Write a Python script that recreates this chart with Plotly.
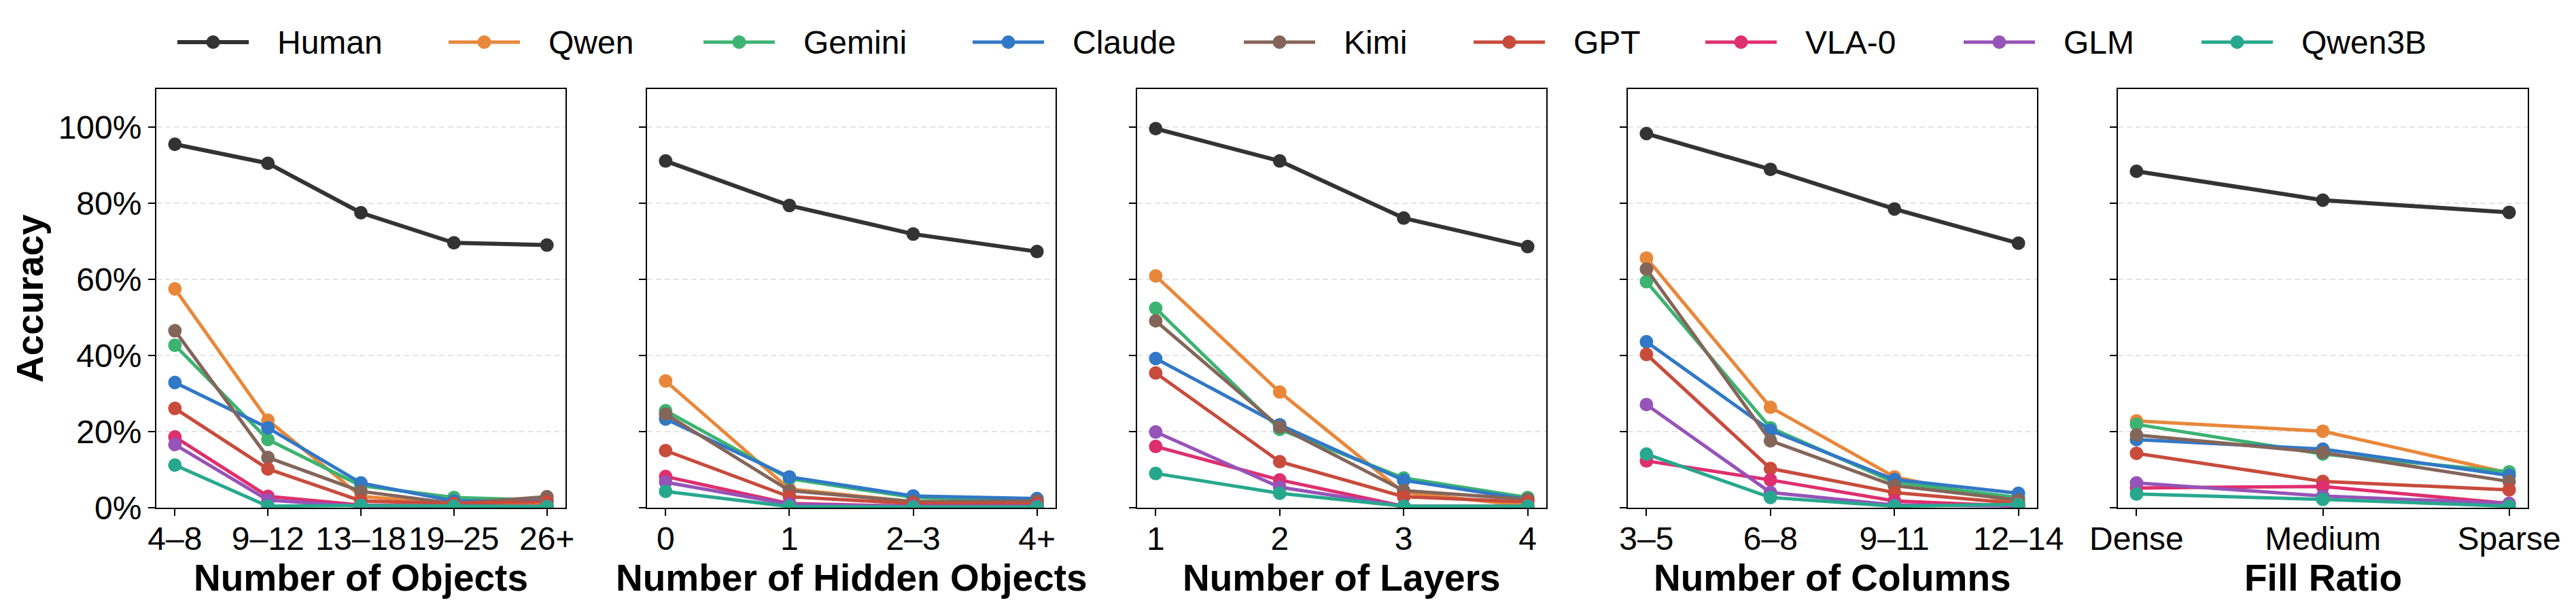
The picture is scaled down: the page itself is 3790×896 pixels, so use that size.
import plotly.graph_objects as go

models = ["Human", "Qwen", "Gemini", "Claude", "Kimi", "GPT", "VLA-0", "GLM", "Qwen3B"]
colors = ["#333333", "#E8873A", "#3CB371", "#3178C6", "#84655A", "#C84B3C", "#DE2F6E", "#9653B8", "#27A88E"]

y_ticks = [0, 20, 40, 60, 80, 100]
y_tick_labels = ["0%", "20%", "40%", "60%", "80%", "100%"]

objects_cats = ["4–8", "9–12", "13–18", "19–25", "26+"]
objects_vals = {
    "Human":  [95.5, 90.5, 77.5, 69.6, 69.0],
    "Qwen":   [57.5, 23.0, 3.0, 1.0, 1.0],
    "Gemini": [42.7, 17.9, 5.8, 2.7, 2.0],
    "Claude": [32.9, 21.0, 6.5, 1.8, 1.8],
    "Kimi":   [46.5, 13.2, 4.3, 1.1, 2.9],
    "GPT":    [26.1, 10.2, 1.8, 1.1, 1.6],
    "VLA-0":  [18.6, 3.0, 0.7, 0.4, 0.4],
    "GLM":    [16.6, 2.0, 0.4, 0.3, 0.3],
    "Qwen3B": [11.2, 0.4, 0.6, 0.4, 0.3],
}

hidden_cats = ["0", "1", "2–3", "4+"]
hidden_vals = {
    "Human":  [91.1, 79.4, 71.9, 67.3],
    "Qwen":   [33.3, 4.9, 1.6, 1.3],
    "Gemini": [25.5, 7.6, 2.7, 1.8],
    "Claude": [23.3, 8.1, 3.1, 2.4],
    "Kimi":   [24.6, 4.5, 1.6, 1.8],
    "GPT":    [15.0, 2.9, 1.1, 1.1],
    "VLA-0":  [8.2, 1.1, 0.4, 0.4],
    "GLM":    [6.7, 0.9, 0.4, 0.4],
    "Qwen3B": [4.3, 0.3, 0.2, 0.2],
}

layers_cats = ["1", "2", "3", "4"]
layers_vals = {
    "Human":  [99.6, 91.1, 76.1, 68.6],
    "Qwen":   [60.9, 30.4, 4.0, 0.5],
    "Gemini": [52.4, 20.6, 7.8, 2.7],
    "Claude": [39.2, 21.8, 7.2, 2.2],
    "Kimi":   [49.1, 21.2, 4.5, 2.2],
    "GPT":    [35.4, 12.1, 2.9, 1.5],
    "VLA-0":  [16.1, 7.3, 0.4, 0.4],
    "GLM":    [19.9, 5.4, 0.4, 0.3],
    "Qwen3B": [9.0, 3.8, 0.4, 0.4],
}

columns_cats = ["3–5", "6–8", "9–11", "12–14"]
columns_vals = {
    "Human":  [98.3, 88.9, 78.5, 69.5],
    "Qwen":   [65.6, 26.4, 8.1, 1.3],
    "Gemini": [59.4, 21.0, 6.7, 2.7],
    "Claude": [43.6, 20.3, 7.4, 3.8],
    "Kimi":   [62.7, 17.6, 5.8, 2.0],
    "GPT":    [40.3, 10.3, 4.0, 1.1],
    "VLA-0":  [12.3, 7.3, 1.8, 0.4],
    "GLM":    [27.1, 4.0, 0.7, 0.5],
    "Qwen3B": [14.1, 2.7, 0.4, 0.9],
}

fill_cats = ["Dense", "Medium", "Sparse"]
fill_vals = {
    "Human":  [88.4, 80.8, 77.6],
    "Qwen":   [22.8, 20.1, 9.1],
    "Gemini": [21.9, 14.1, 9.4],
    "Claude": [17.9, 15.4, 8.5],
    "Kimi":   [19.1, 14.5, 6.9],
    "GPT":    [14.3, 6.9, 4.7],
    "VLA-0":  [5.2, 5.6, 1.1],
    "GLM":    [6.5, 3.1, 1.1],
    "Qwen3B": [3.6, 2.2, 0.4],
}

panels = [
    ("Number of Objects", objects_cats, objects_vals),
    ("Number of Hidden Objects", hidden_cats, hidden_vals),
    ("Number of Layers", layers_cats, layers_vals),
    ("Number of Columns", columns_cats, columns_vals),
    ("Fill Ratio", fill_cats, fill_vals),
]

# ---- layout constants (pixels) ----
W, H = 3790, 896
x_px = [(230, 832), (952, 1553), (1673, 2275), (2395, 2997), (3116, 3719)]
y_top, y_bot = 131, 747
legend_x_px = [261, 660, 1035, 1431, 1830, 2168, 2509, 2889, 3239]
legend_y_px = 62
legend_handle_len = 105
legend_text_gap = 145
ytitle_x_px = 44
xtitle_y_px = 850
FONT = "Liberation Sans, Arial, sans-serif"

fig = go.Figure()
layout = dict(
    width=W, height=H,
    margin=dict(l=0, r=0, t=0, b=0),
    paper_bgcolor="white", plot_bgcolor="white",
    font=dict(family=FONT, size=48, color="black"),
    showlegend=False,
)
annotations = []

for i, (title, cats, vals) in enumerate(panels):
    ax = "" if i == 0 else str(i + 1)
    for m, c in zip(models, colors):
        fig.add_trace(go.Scatter(
            x=cats, y=vals[m], mode="lines+markers", name=m,
            line=dict(color=c, width=6 if m == "Human" else 5),
            marker=dict(color=c, size=20, line=dict(width=0)),
            xaxis="x" + ax, yaxis="y" + ax, legendgroup=m,
        ))
    n = len(cats)
    pad = 0.05 * (n - 1)
    x0, x1 = x_px[i]
    layout["xaxis" + ax] = dict(
        domain=[x0 / W, x1 / W], anchor="y" + ax, type="category",
        range=[-pad, n - 1 + pad], showline=True, linecolor="black", linewidth=2,
        mirror=True, ticks="outside", ticklen=10, tickwidth=2, tickcolor="black",
        tickangle=0, ticklabelstandoff=-8, automargin=False,
        showgrid=False, zeroline=False, tickfont=dict(size=48, family=FONT),
    )
    layout["yaxis" + ax] = dict(
        domain=[1 - y_bot / H, 1 - y_top / H], anchor="x" + ax, range=[0, 110],
        tickmode="array", tickvals=y_ticks, ticktext=y_tick_labels, showticklabels=(i == 0),
        showline=True, linecolor="black", linewidth=2, mirror=True,
        ticks="outside", ticklen=10, tickwidth=2, tickcolor="black", automargin=False,
        showgrid=True, gridcolor="#e4e4e4", gridwidth=2, griddash="8px,5px",
        zeroline=False, tickfont=dict(size=48, family=FONT),
    )
    # x-axis title
    annotations.append(dict(text="<b>%s</b>" % title, xref="paper", yref="paper",
                            x=(x0 + x1) / 2 / W, y=1 - xtitle_y_px / H,
                            xanchor="center", yanchor="middle", showarrow=False,
                            font=dict(size=55, family=FONT, color="black")))

# ---- legend drawn as shapes + text ----
shapes = []
ly = 1 - legend_y_px / H
r = 10
for m, c, lx in zip(models, colors, legend_x_px):
    shapes.append(dict(type="line", xref="paper", yref="paper",
                       x0=lx / W, x1=(lx + legend_handle_len) / W, y0=ly, y1=ly,
                       line=dict(color=c, width=6 if m == "Human" else 5)))
    cx = lx + legend_handle_len / 2
    shapes.append(dict(type="circle", xref="paper", yref="paper",
                       x0=(cx - r) / W, x1=(cx + r) / W,
                       y0=ly - r / H, y1=ly + r / H,
                       fillcolor=c, line=dict(width=0)))
    annotations.append(dict(text=m, xref="paper", yref="paper",
                            x=(lx + legend_text_gap) / W, y=ly,
                            xanchor="left", yanchor="middle", showarrow=False,
                            font=dict(size=48, family=FONT, color="black")))

# y-axis title
annotations.append(dict(text="<b>Accuracy</b>", xref="paper", yref="paper",
                        x=ytitle_x_px / W, y=1 - (y_top + y_bot) / 2 / H,
                        xanchor="center", yanchor="middle", textangle=-90, showarrow=False,
                        font=dict(size=55, family=FONT, color="black")))
layout["shapes"] = shapes
layout["annotations"] = annotations

fig.update_layout(**layout)
fig.write_html("out.html")
